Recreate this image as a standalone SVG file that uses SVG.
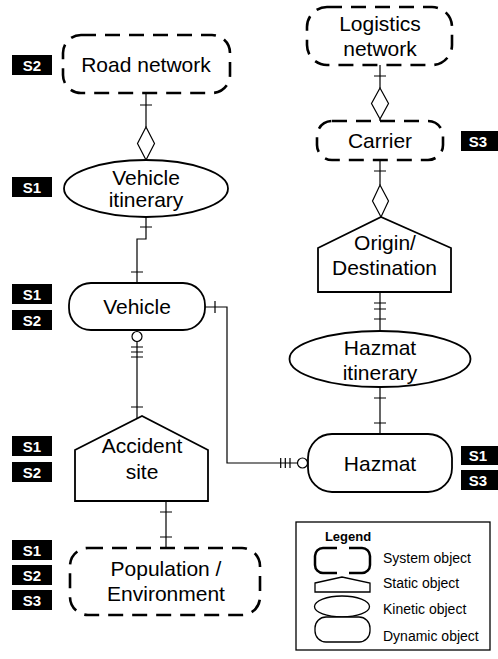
<svg xmlns="http://www.w3.org/2000/svg" width="498" height="659" viewBox="0 0 498 659">
<style>
.t{font-family:"Liberation Sans",Arial,sans-serif;font-size:21px;fill:#000;text-anchor:middle}
.lt{font-family:"Liberation Sans",Arial,sans-serif;font-size:14px;fill:#000}
.lg{font-family:"Liberation Sans",Arial,sans-serif;font-size:13px;font-weight:bold;fill:#000;text-anchor:middle}
.sys{fill:#fff;stroke:#000;stroke-width:2.6;stroke-dasharray:15 9}
.shp{fill:#fff;stroke:#000;stroke-width:1.8}
.c{fill:none;stroke:#000;stroke-width:1.2}
.dia{fill:#fff;stroke:#000;stroke-width:1.2}
.sb{fill:#000}
.st{font-family:"Liberation Sans",Arial,sans-serif;font-size:15px;font-weight:bold;fill:#fff;text-anchor:middle}
</style>
<rect width="498" height="659" fill="#fff"/>

<g id="connectors">
  <!-- Road network - Vehicle itinerary -->
  <path class="c" d="M146,93V127M140,105H152"/>
  <polygon class="dia" points="146,127 154.5,143.5 146,160 137.5,143.5"/>
  <!-- Vehicle itinerary - Vehicle -->
  <path class="c" d="M146,217V239H137V283M140,227H152M131,272H143"/>
  <!-- Vehicle - Accident site -->
  <path class="c" d="M137,341V418.5M131,347H143M131,352H143M131,357H143M131,407H143"/>
  <circle class="dia" cx="137" cy="336.5" r="5"/>
  <!-- Vehicle - Hazmat -->
  <path class="c" d="M205,307H227V463H297.5M215,301V313M280.7,458V468M285.3,458V468M290,458V468"/>
  <circle class="dia" cx="302.5" cy="463" r="5"/>
  <!-- Accident site - Population -->
  <path class="c" d="M166,501V548M160,512H172M160,537H172"/>
  <!-- Logistics - Carrier -->
  <path class="c" d="M380,65V88M374,76H386"/>
  <polygon class="dia" points="380,88 388.5,103.5 380,119 371.5,103.5"/>
  <path class="c" d="M380,119V121"/>
  <!-- Carrier - Origin -->
  <path class="c" d="M380,160V185M374,171H386"/>
  <polygon class="dia" points="380,185 388.5,201 381,217 372.5,201"/>
  <!-- Origin - Hazmat itinerary -->
  <path class="c" d="M380,292V331M374,303H386M374,309H386M374,319H386"/>
  <!-- Hazmat itinerary - Hazmat -->
  <path class="c" d="M380,387V434M374,398H386M374,423H386"/>
</g>

<g id="road-network">
  <rect class="sys" x="63" y="35" width="167" height="58" rx="18"/>
  <text class="t" x="146" y="71.5">Road network</text>
</g>
<g id="vehicle-itinerary">
  <ellipse class="shp" cx="146" cy="188.5" rx="82" ry="28.5"/>
  <text class="t" x="146" y="184.5">Vehicle</text>
  <text class="t" x="146" y="206.5">itinerary</text>
</g>
<g id="vehicle">
  <rect class="shp" x="69" y="283" width="136" height="47" rx="22"/>
  <text class="t" x="137" y="313.5">Vehicle</text>
</g>
<g id="accident-site">
  <polygon class="shp" points="75,450 142,416 208,450 208,501 75,501"/>
  <text class="t" x="142" y="452.5">Accident</text>
  <text class="t" x="142" y="479">site</text>
</g>
<g id="population-environment">
  <rect class="sys" x="70" y="548" width="190" height="67" rx="18"/>
  <text class="t" x="166" y="575.5">Population /</text>
  <text class="t" x="166" y="600.5">Environment</text>
</g>
<g id="logistics-network">
  <rect class="sys" x="307" y="7" width="145" height="58" rx="20"/>
  <text class="t" x="380" y="30.5">Logistics</text>
  <text class="t" x="380" y="56">network</text>
</g>
<g id="carrier">
  <rect class="sys" x="317" y="121" width="126" height="39" rx="15"/>
  <text class="t" x="380" y="147.5">Carrier</text>
</g>
<g id="origin-destination">
  <polygon class="shp" points="318,248 381,217 451,248 451,292 318,292"/>
  <text class="t" x="385" y="249.5">Origin/</text>
  <text class="t" x="384.5" y="274.5">Destination</text>
</g>
<g id="hazmat-itinerary">
  <ellipse class="shp" cx="380" cy="359" rx="90.5" ry="28"/>
  <text class="t" x="380" y="354.5">Hazmat</text>
  <text class="t" x="380" y="379.5">itinerary</text>
</g>
<g id="hazmat">
  <rect class="shp" x="308" y="434" width="144" height="58" rx="24"/>
  <text class="t" x="380" y="470.5">Hazmat</text>
</g>

<g id="scope-labels">
  <rect class="sb" x="12" y="55" width="40" height="20"/><text class="st" x="32" y="70.5">S2</text>
  <rect class="sb" x="12" y="177" width="40" height="20"/><text class="st" x="32" y="192.5">S1</text>
  <rect class="sb" x="12" y="284" width="40" height="20"/><text class="st" x="32" y="299.5">S1</text>
  <rect class="sb" x="12" y="310" width="40" height="20"/><text class="st" x="32" y="325.5">S2</text>
  <rect class="sb" x="12" y="436" width="40" height="20"/><text class="st" x="32" y="451.5">S1</text>
  <rect class="sb" x="12" y="462" width="40" height="20"/><text class="st" x="32" y="477.5">S2</text>
  <rect class="sb" x="12" y="540" width="40" height="20"/><text class="st" x="32" y="555.5">S1</text>
  <rect class="sb" x="12" y="565" width="40" height="20"/><text class="st" x="32" y="580.5">S2</text>
  <rect class="sb" x="12" y="590" width="40" height="20"/><text class="st" x="32" y="605.5">S3</text>
  <rect class="sb" x="461" y="131" width="40" height="20"/><text class="st" x="478" y="146.5">S3</text>
  <rect class="sb" x="461" y="446" width="40" height="19"/><text class="st" x="478" y="461">S1</text>
  <rect class="sb" x="461" y="470" width="40" height="20"/><text class="st" x="478" y="485.5">S3</text>
</g>

<g id="legend">
  <rect x="296" y="522" width="194" height="128" fill="#fff" stroke="#000" stroke-width="1.3"/>
  <text class="lg" x="348" y="541">Legend</text>
  <path d="M337,548H323A8,8 0 0 0 315,556V565A8,8 0 0 0 323,573H337M349,548H362A8,8 0 0 1 370,556V565A8,8 0 0 1 362,573H349" fill="none" stroke="#000" stroke-width="2.5"/>
  <polygon class="shp" style="stroke-width:1.3" points="315,583 342,577 370,583 370,592 315,592"/>
  <ellipse class="shp" style="stroke-width:1.3" cx="342" cy="606.5" rx="27.5" ry="10.5"/>
  <rect class="shp" style="stroke-width:1.3" x="315" y="617" width="55" height="25" rx="11"/>
  <text class="lt" x="383" y="563">System object</text>
  <text class="lt" x="383" y="588">Static object</text>
  <text class="lt" x="383" y="614">Kinetic object</text>
  <text class="lt" x="383" y="641">Dynamic object</text>
</g>
</svg>
